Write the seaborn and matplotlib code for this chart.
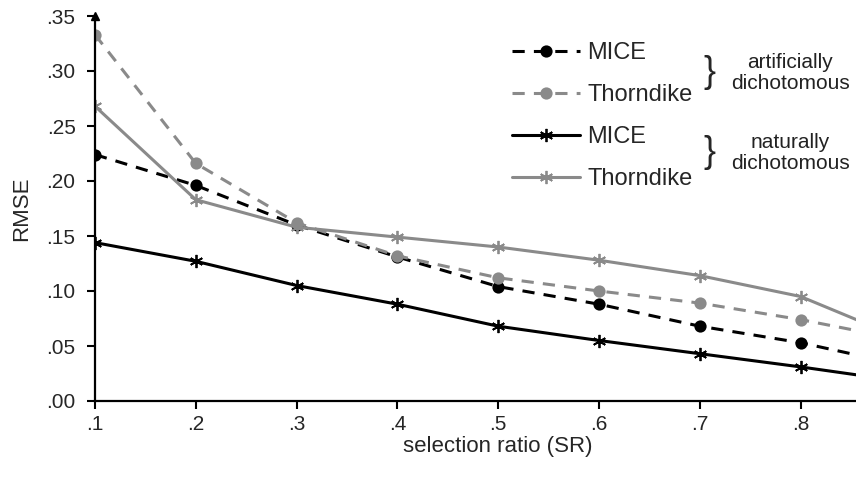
import numpy as np
import pandas as pd
import seaborn as sns
import matplotlib.pyplot as plt

# selection ratio and RMSE
sr = [.1, .2, .3, .4, .5, .6, .7, .8, .9]
mice_art = [.224, .196, .160, .131, .104, .088, .068, .053, .033]
thorn_art = [.333, .216, .162, .132, .112, .100, .089, .074, .056]
mice_nat = [.144, .127, .105, .088, .068, .055, .043, .031, .018]
thorn_nat = [.268, .183, .158, .149, .140, .128, .114, .095, .057]

labels = ['MICE', 'Thorndike', 'MICE', 'Thorndike']
groups = ['artificially\ndichotomous', 'naturally\ndichotomous']

sns.set_style('ticks')
plt.rcParams['font.family'] = ['Liberation Sans', 'DejaVu Sans']

fig = plt.figure(figsize=(8.56, 4.78), dpi=100)
ax = fig.add_axes([95/856, 77/478, 761/856, 385/478])

dash = (0, (4, 3))
styles = [
    (mice_art, 'black', dash, 'o'),
    (thorn_art, '#8a8a8a', dash, 'o'),
    (mice_nat, 'black', '-', (6, 2, 0)),
    (thorn_nat, '#8a8a8a', '-', (6, 2, 0)),
]
for (vals, c, ls, m), lab in zip(styles, labels):
    ms = 7.5 if m == 'o' else 9.5
    sns.lineplot(x=sr, y=vals, color=c, linestyle=ls, marker=m,
                 markersize=ms, markeredgecolor=c, markerfacecolor=c,
                 markeredgewidth=1.3, linewidth=2.2, label=lab,
                 legend=False, ax=ax)

handles = list(ax.lines[:4])

ax.set_xlim(0.1, 0.855)
ax.set_ylim(0, 0.35)
ax.set_xticks([.1, .2, .3, .4, .5, .6, .7, .8])
ax.set_xticklabels(['.1', '.2', '.3', '.4', '.5', '.6', '.7', '.8'])
ax.set_yticks(np.arange(0, 0.36, 0.05))
ax.set_yticklabels(['.00', '.05', '.10', '.15', '.20', '.25', '.30', '.35'])
ax.tick_params(labelsize=15, width=1.5, length=6, color='black')
ax.tick_params(axis='x', pad=4)
ax.tick_params(axis='y', pad=8)

for s in ['top', 'right']:
    ax.spines[s].set_visible(False)
for s in ['left', 'bottom']:
    ax.spines[s].set_linewidth(1.6)
    ax.spines[s].set_color('black')

# arrow head on the y axis
ax.plot([0], [1], marker='^', color='black', markersize=6,
        transform=ax.transAxes, clip_on=False)

ax.set_xlabel('selection ratio (SR)', fontsize=16)
ax.set_ylabel('RMSE', fontsize=16)
ax.xaxis.set_label_coords((0.5 - 0.1) / (0.855 - 0.1), -0.09)
ax.yaxis.set_label_coords(-0.083, 0.5)

ax.legend(handles, labels, loc='upper left',
          bbox_to_anchor=(512/856, 1 - 42/478), bbox_transform=fig.transFigure,
          frameon=False, fontsize=17, handlelength=2.9, handletextpad=0.3,
          labelspacing=0.85, borderpad=0, borderaxespad=0)

for yc, g in zip([73, 153], groups):
    fig.text(709/856, 1 - yc/478, '}', fontsize=26, ha='center', va='center',
             fontweight='light')
    fig.text(790/856, 1 - yc/478, g, fontsize=15, ha='center', va='center',
             linespacing=1.1, color='#222222')

fig.savefig('out.png', dpi=100)
